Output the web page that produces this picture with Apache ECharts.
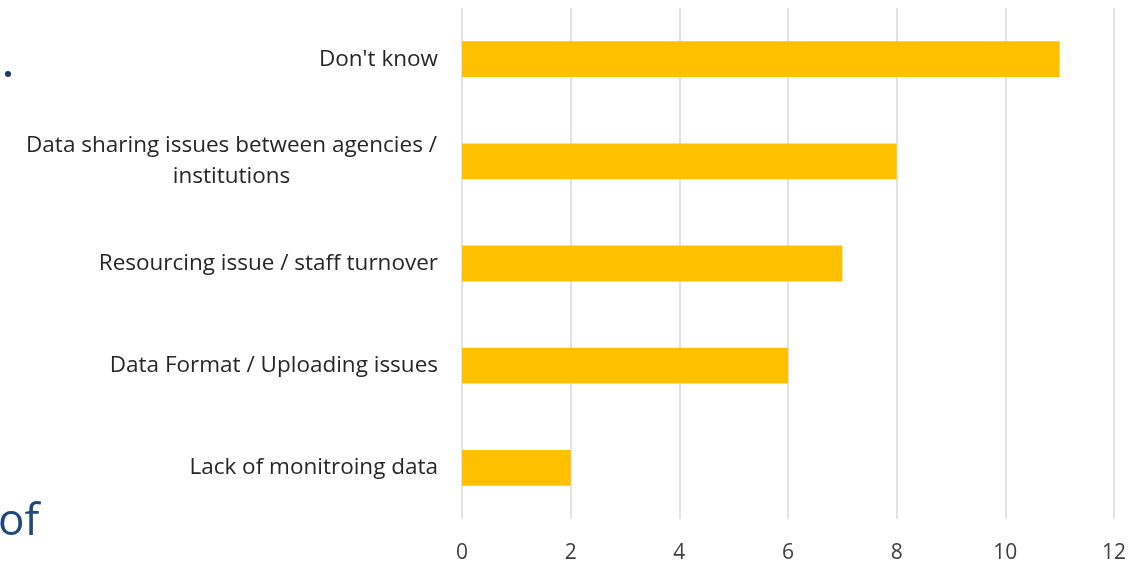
<!DOCTYPE html>
<html>
<head>
<meta charset="utf-8">
<script src="https://cdn.jsdelivr.net/npm/echarts@6/dist/echarts.min.js"></script>
<style>html,body{margin:0;padding:0;background:#fff;}#c{width:1147px;height:564px;}</style>
</head>
<body>
<div id="c"></div>
<script>
var categories = ["Lack of monitroing data", "Data Format / Uploading issues", "Resourcing issue / staff turnover", "Data sharing issues between agencies /\ninstitutions", "Don't know"];
var values = [2, 6, 7, 8, 11];
var tickLabels = ["0", "2", "4", "6", "8", "10", "12"];

var chart = echarts.init(document.getElementById('c'));
var FONT = 'Open Sans';
var FS = 22.5;
chart.setOption({
  animation: false,
  grid: {left: 462, right: 33, top: 8, bottom: 45, containLabel: false},
  xAxis: {
    type: 'value', min: 0, max: 12, interval: 2,
    axisLine: {show: false}, axisTick: {show: false},
    splitLine: {lineStyle: {color: '#d9d9d9', width: 1.5}},
    axisLabel: {color: '#404040', fontSize: 21, fontFamily: FONT, margin: 24,
      formatter: function (v) { return tickLabels[Math.round(v / 2)]; }}
  },
  yAxis: {
    type: 'category', data: categories,
    axisLine: {show: false}, axisTick: {show: false},
    axisLabel: {color: '#262626', fontSize: FS, fontFamily: FONT, margin: 24, lineHeight: 31,
      formatter: function (v) {
        if (v.indexOf('\n') >= 0) return '{c|' + v.split('\n').join('}\n{c|') + '}';
        return v;
      },
      rich: {c: {width: 413, align: 'center', fontSize: FS, fontFamily: FONT, color: '#262626', lineHeight: 31}}
    }
  },
  series: [{
    type: 'bar', data: values, barCategoryGap: '65%',
    itemStyle: {color: '#FFC000'}
  }],
  graphic: [
    {type: 'circle', shape: {cx: 8, cy: 74, r: 3}, style: {fill: '#1F3864'}},
    {type: 'text', left: -2, top: 500, style: {text: 'of', fontSize: 44, fontFamily: FONT, fill: '#1F497D'}}
  ]
});
</script>
</body>
</html>
